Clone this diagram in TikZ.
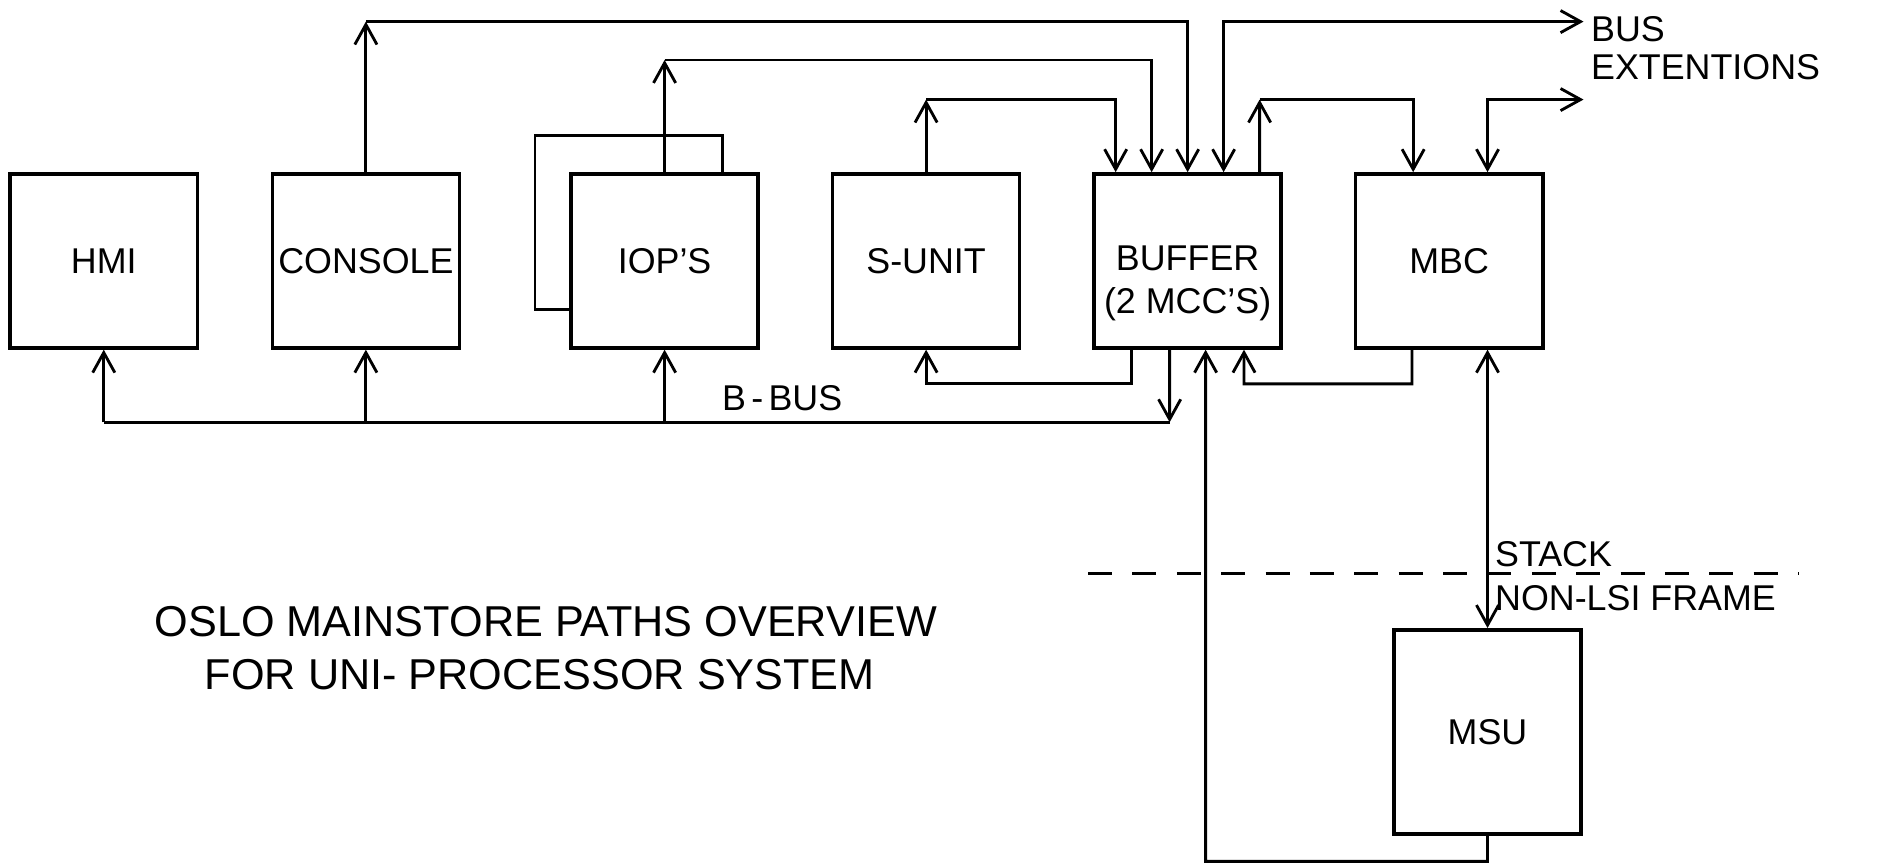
\documentclass[tikz,border=0pt]{standalone}
\usepackage{fontspec}
\setmainfont{Liberation Sans}
\usetikzlibrary{arrows.meta}
\tikzset{
  box/.style={draw, line width=1.7pt, minimum width=3.12cm, minimum height=2.9cm, inner sep=0pt, font=\fontsize{17}{20}\selectfont},
  wire/.style={line width=1.35pt},
  tip/.style={-{Straight Barb[length=9.5pt,width=10.5pt,line width=1.35pt]}},
  tiptwo/.style={{Straight Barb[length=9.5pt,width=10.5pt,line width=1.35pt]}-{Straight Barb[length=9.5pt,width=10.5pt,line width=1.35pt]}},
  lbl/.style={inner sep=0pt, font=\fontsize{17}{20}\selectfont},
  ttl/.style={inner sep=0pt, font=\fontsize{20.5}{24}\selectfont},
}
\begin{document}
\begin{tikzpicture}[x=0.02cm,y=-0.02cm]
\useasboundingbox (0,0) rectangle (1568,723);
% boxes
\node[box] (hmi) at (86.5,217.5) {HMI};
\node[box] (con) at (305,217.5) {CONSOLE};
\node[box] (iop) at (554,217.5) {IOP'S};
\node[box] (su)  at (772,217.5) {S-UNIT};
\node[box] (buf) at (990,217.5) {};
\node[lbl] (buft) at (990,215) {BUFFER};
\node[lbl] (bufs) at (990,254) {(2 MCC'S)};
\node[box] (mbc) at (1208,217.5) {MBC};
\node[box, minimum height=3.4cm] (msu) at (1240,610) {MSU};
% coordinates
\coordinate (t1) at (305,18);
\coordinate (t2) at (554,50);
\coordinate (t3) at (772,83);
\coordinate (be1) at (1320,18);
\coordinate (t5) at (1050,83);
\coordinate (be2) at (1320,83);
\coordinate (l1) at (446,113);
\coordinate (bb) at (975,352);
\coordinate (bus0) at (86.5,352);
\coordinate (b2) at (772,320);
\coordinate (b3) at (1037,320);
\coordinate (b4) at (1005,718);
\coordinate (d1) at (907,478);
\coordinate (d2) at (1500,478);
% top wires
\draw[wire,tip] (con.north) -- (t1);
\draw[wire,tip] (t1) -| (buf.north);
\draw[wire,tip] (iop.north) -- (t2);
\draw[wire,tip] (t2) -| ([xshift=-0.6cm]buf.north);
\draw[wire,tip] (su.north) -- (t3);
\draw[wire,tip] (t3) -| ([xshift=-1.2cm]buf.north);
\draw[wire,tiptwo] ([xshift=0.6cm]buf.north) |- (be1);
\draw[wire,tip] ([xshift=1.2cm]buf.north) -- (t5);
\draw[wire,tip] (t5) -| ([xshift=-0.6cm]mbc.north);
\draw[wire,tiptwo] ([xshift=0.64cm]mbc.north) |- (be2);
% IOP loop
\draw[wire] ([xshift=0.96cm]iop.north) |- (l1) |- ([yshift=-0.81cm]iop.west);
% bottom wires
\draw[wire,tip] ([xshift=-0.3cm]buf.south) -- (bb);
\draw[wire] (bb) -- (bus0);
\draw[wire,tip] (bus0) -- (hmi.south);
\draw[wire,tip] (con.south |- bb) -- (con.south);
\draw[wire,tip] (iop.south |- bb) -- (iop.south);
\draw[wire,tip] ([xshift=-0.94cm]buf.south) |- (b2) -- (su.south);
\draw[wire,tip] ([xshift=-0.62cm]mbc.south) |- (b3) -- ([xshift=0.94cm]buf.south);
\draw[wire,tip] (msu.south) |- (b4) -- ([xshift=0.3cm]buf.south);
\draw[wire,tiptwo] ([xshift=0.64cm]mbc.south) -- (msu.north);
% dashed boundary
\draw[wire, dash pattern=on 0.4cm off 0.34cm] (d1) -- (d2);
% labels
\node[lbl] (bbus) at (652,332) {B\hspace{0.15em}-\hspace{0.15em}BUS};
\node[lbl, anchor=west] (bus) at (1326,24) {BUS};
\node[lbl, anchor=west] (ext) at (1326,56) {EXTENTIONS};
\node[lbl, anchor=west] (stack) at (1246,462) {STACK};
\node[lbl, anchor=west] (nonlsi) at (1246,499) {NON-LSI FRAME};
\node[ttl] (title1) at (455,518) {OSLO MAINSTORE PATHS OVERVIEW};
\node[ttl] (title2) at (450,562) {FOR UNI- PROCESSOR SYSTEM};
\end{tikzpicture}
\end{document}
